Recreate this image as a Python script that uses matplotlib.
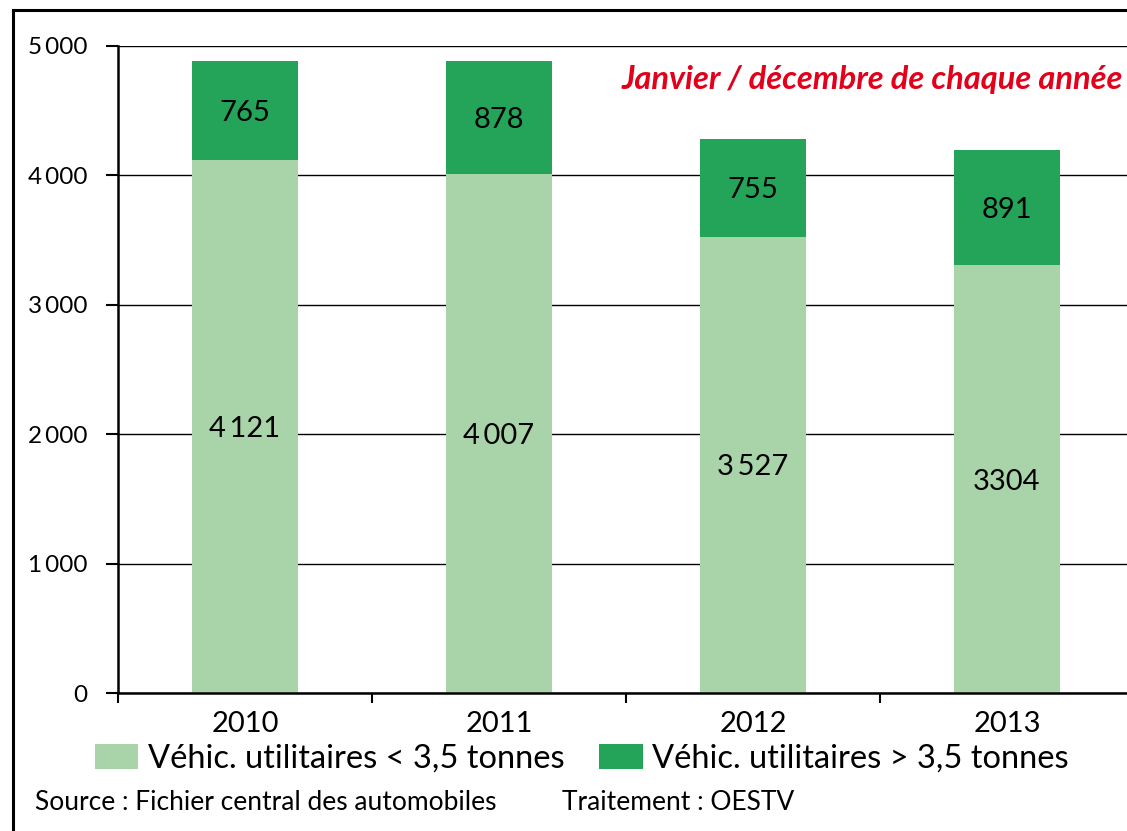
import matplotlib
matplotlib.use("Agg")
import matplotlib.pyplot as plt
from matplotlib.patches import Patch
from matplotlib.lines import Line2D

years = ["2010", "2011", "2012", "2013"]
light = [4121, 4007, 3527, 3304]
dark = [765, 878, 755, 891]
light_labels = ["4\u2009121", "4\u2009007", "3\u2009527", "3304"]
dark_labels = ["765", "878", "755", "891"]
yticks = [0, 1000, 2000, 3000, 4000, 5000]
ytick_labels = ["0", "1\u2009000", "2\u2009000", "3\u2009000", "4\u2009000", "5\u2009000"]

c_light = "#a9d4aa"
c_dark = "#23a459"

plt.rcParams["font.family"] = ["Lato", "DejaVu Sans"]

W, H = 1127, 831
fig = plt.figure(figsize=(W / 100, H / 100), dpi=100)
ax = fig.add_axes([118 / W, 1 - 693 / H, 1016 / W, (693 - 46) / H])

x = list(range(len(years)))
ax.bar(x, light, width=0.42, color=c_light, zorder=2)
ax.bar(x, dark, width=0.42, bottom=light, color=c_dark, zorder=2)

# labels sit in the middle of each segment
for i in x:
    ax.text(i, light[i] / 2, light_labels[i], ha="center", va="center_baseline", fontsize=21, zorder=3)
    ax.text(i, light[i] + dark[i] / 2, dark_labels[i], ha="center", va="center_baseline", fontsize=21, zorder=3)

ax.set_xlim(-0.5, 3.5)
ax.set_ylim(0, 5000)
ax.set_yticks(yticks)
ax.set_yticklabels(ytick_labels, fontsize=17.5)
ax.yaxis.grid(True, color="black", linewidth=1.0, zorder=0)
ax.set_axisbelow(True)

ax.set_xticks([-0.5, 0.5, 1.5, 2.5, 3.5])
ax.set_xticklabels([])
ax.set_xticks(x, minor=True)
ax.set_xticklabels(years, minor=True, fontsize=21)
ax.tick_params(axis="x", which="minor", length=0, pad=13)
ax.tick_params(axis="x", which="major", length=7, width=1.5, direction="out")
ax.tick_params(axis="y", length=9, width=1.5, direction="out", pad=13)

for s in ["top", "right"]:
    ax.spines[s].set_visible(False)
ax.spines["left"].set_linewidth(1.8)
ax.spines["bottom"].set_linewidth(1.8)

fig.text(1123 / W, 1 - 80 / H, "Janvier / décembre de chaque année",
         ha="right", va="center", color="#e2001a", fontsize=23.5, fontstyle="italic", fontweight="bold")

handles = [Patch(facecolor=c_light, edgecolor="none", label="Véhic. utilitaires < 3,5 tonnes"),
           Patch(facecolor=c_dark, edgecolor="none", label="Véhic. utilitaires > 3,5 tonnes")]
fig.legend(handles=handles, loc="center left", bbox_to_anchor=(95 / W, 1 - 759 / H), ncol=2,
           frameon=False, fontsize=23.5, handlelength=1.32, handleheight=0.77, columnspacing=1.07,
           handletextpad=0.3, borderpad=0, borderaxespad=0)

fig.text(35 / W, 1 - 803 / H, "Source : Fichier central des automobiles", fontsize=19, va="center")
fig.text(562 / W, 1 - 803 / H, "Traitement : OESTV", fontsize=19, va="center")

# outer frame: left and top edges only
fig.add_artist(Line2D([13 / W, 13 / W], [0, 1 - 10 / H], transform=fig.transFigure, color="black", linewidth=2.2))
fig.add_artist(Line2D([13 / W, 1], [1 - 10 / H, 1 - 10 / H], transform=fig.transFigure, color="black", linewidth=2.2))

fig.savefig("out.png", dpi=100)
